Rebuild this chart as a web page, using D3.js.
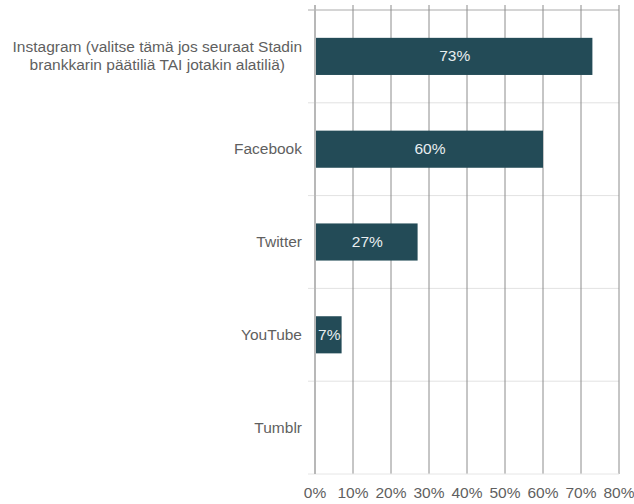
<!DOCTYPE html>
<html>
<head>
<meta charset="utf-8">
<script src="https://cdn.jsdelivr.net/npm/d3@7"></script>
<style>
  body { margin: 0; background: #fff; }
  svg { font-family: "Liberation Sans", Arial, sans-serif; }
</style>
</head>
<body>
<div id="chart"></div>
<script>
// data
const categories = [
  "Instagram (valitse tämä jos seuraat Stadin\nbrankkarin päätiliä TAI jotakin alatiliä)",
  "Facebook",
  "Twitter",
  "YouTube",
  "Tumblr"
];
const values = [73, 60, 27, 7, 0];
const xTicks = [0, 10, 20, 30, 40, 50, 60, 70, 80];

const WIDTH = 634, HEIGHT = 504;
const plotLeft = 315, plotRight = 619, plotTop = 10, plotBottom = 474;

const svg = d3.select("#chart").append("svg")
  .attr("width", WIDTH)
  .attr("height", HEIGHT);

const x = d3.scaleLinear().domain([0, 80]).range([plotLeft, plotRight]);
const y = d3.scaleBand().domain(categories).range([plotTop, plotBottom])
  .paddingInner(0.6).paddingOuter(0.3);
const step = y.step();

// horizontal separators between categories (light)
const seps = d3.range(categories.length + 1).map(i => plotTop + i * step);
svg.append("g").selectAll("line")
  .data(seps.slice(1, -1))
  .enter().append("line")
  .attr("x1", plotLeft - 7).attr("x2", plotRight)
  .attr("y1", d => d).attr("y2", d => d)
  .attr("stroke", "#e2e2e2");

// top border line
svg.append("line")
  .attr("x1", plotLeft - 7).attr("x2", plotRight)
  .attr("y1", plotTop).attr("y2", plotTop)
  .attr("stroke", "#aaa");

// vertical gridlines
svg.append("g").selectAll("line")
  .data(xTicks.slice(1))
  .enter().append("line")
  .attr("x1", d => x(d)).attr("x2", d => x(d))
  .attr("y1", plotTop - 5).attr("y2", plotBottom)
  .attr("stroke", "#8c8c8c");

// bottom line (light)
svg.append("line")
  .attr("x1", plotLeft - 7).attr("x2", plotRight)
  .attr("y1", plotBottom).attr("y2", plotBottom)
  .attr("stroke", "#e6e6e6");

// bars
svg.append("g").selectAll("rect")
  .data(values)
  .enter().append("rect")
  .attr("x", x(0))
  .attr("y", (d, i) => y(categories[i]))
  .attr("width", d => x(d) - x(0))
  .attr("height", y.bandwidth())
  .attr("fill", "#234b57");

// value labels inside bars
svg.append("g").selectAll("text")
  .data(values.filter(d => d > 0))
  .enter().append("text")
  .attr("x", d => (x(0) + x(d)) / 2 + 1)
  .attr("y", (d, i) => y(categories[i]) + y.bandwidth() / 2 + 5)
  .attr("text-anchor", "middle")
  .attr("font-size", "15.5px")
  .attr("fill", "#e8eef0")
  .text(d => d + "%");

// y axis line
svg.append("line")
  .attr("x1", plotLeft).attr("x2", plotLeft)
  .attr("y1", plotTop - 5).attr("y2", plotBottom)
  .attr("stroke", "#b8b8b8")
  .attr("stroke-width", 2);

// category labels (multi-line centred, right edge at 302)
const labelRight = 302;
categories.forEach((c, i) => {
  const lines = c.split("\n");
  const cy = y(c) + y.bandwidth() / 2;
  const g = svg.append("text")
    .attr("font-size", "15.5px")
    .attr("fill", "#5f5f5f")
    .attr("text-anchor", "middle");
  const lineH = 18;
  const y0 = cy - (lines.length - 1) * lineH / 2 + 5;
  lines.forEach((l, j) => {
    g.append("tspan").attr("y", y0 + j * lineH).attr("x", 0).text(l);
  });
  let maxW = 0;
  g.selectAll("tspan").each(function () {
    maxW = Math.max(maxW, this.getComputedTextLength());
  });
  g.selectAll("tspan").attr("x", labelRight - maxW / 2);
});

// x axis labels
svg.append("g").selectAll("text")
  .data(xTicks)
  .enter().append("text")
  .attr("x", d => x(d))
  .attr("y", 498)
  .attr("text-anchor", "middle")
  .attr("font-size", "15.5px")
  .attr("fill", "#5f5f5f")
  .text(d => d + "%");
</script>
</body>
</html>
